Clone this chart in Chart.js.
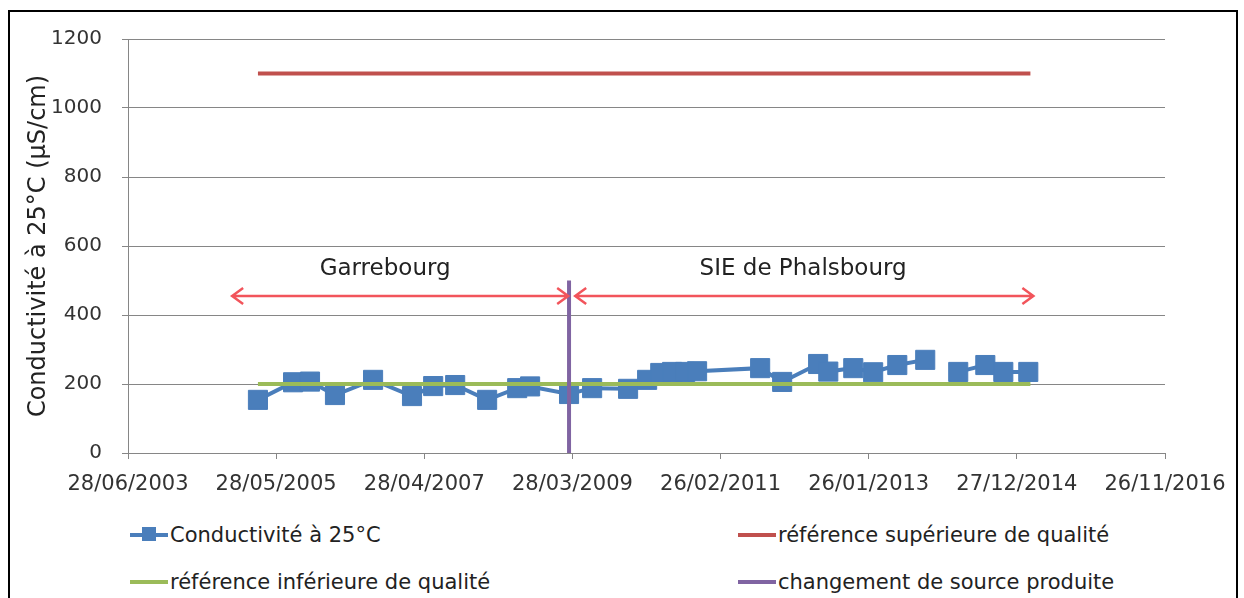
<!DOCTYPE html>
<html>
<head>
<meta charset="utf-8">
<script src="https://cdn.jsdelivr.net/npm/chart.js@4.4.0/dist/chart.umd.min.js"></script>
<style>
  body { margin: 0; background: #fff; font-family: "DejaVu Sans", sans-serif; overflow: hidden; }
  #frame { position: absolute; left: 8px; top: 10px; width: 1226px; height: 620px; border: 2px solid #000; }
  #wrap { position: absolute; left: 0; top: 0; width: 1244px; height: 510px; }
  .item { position: absolute; display: flex; align-items: center; font-size: 21px; color: #222; white-space: nowrap; transform: translateY(-50%); }
  .sym { position: relative; width: 38px; height: 4px; margin-right: 2px; }
  .sym i { position: absolute; left: 12px; top: -6px; width: 14px; height: 14px; }
</style>
</head>
<body>
<div id="frame"></div>
<div id="wrap"><canvas id="chart"></canvas></div>
<div id="legend"></div>

<script>
// sampling dates and measured conductivity (µS/cm), null = gap in the line
const sampleDates = ['2005-03-03', '2005-08-16', '2005-11-04', '2006-03-02', '2006-08-29', '2007-03-01',
  '2007-06-09', '2007-09-21', '2008-02-19', '2008-07-10', '2008-09-09', '2009-03-12', '2009-06-29',
  '2009-12-16', '2010-03-16', '2010-05-17', '2010-07-12', '2010-09-12', '2010-11-07', '2011-09-01',
  '2011-12-14', '2012-06-01', '2012-07-19', '2012-11-14', '2013-02-16', '2013-06-10', '2013-10-20',
  '2014-01-15', '2014-03-25', '2014-07-31', '2014-10-24', '2015-02-19'];
const conductivity = [154, 205, 207, 168, 212, 165, 194, 197, 154, 188, 193, 171, 188,
  186, 212, 232, 235, 235, 237, 246, 206, 258, 236, 246, 234, 255, 270,
  null, 235, 255, 235, 235];

const refDates = ['2005-03-03', '2015-03-01'];
const refUpper = [1100, 1100];
const refLower = [200, 200];

const sourceChangeDates = ['2009-03-12', '2009-03-12'];
const sourceChangeValues = [0, 500];

// axis: Excel date serials, one tick every 700 days
const xMin = 37800;   // 28/06/2003
const xMax = 42700;   // 26/11/2016
const xStep = 700;
const yMin = 0, yMax = 1200, yStep = 200;

const zoneLabels = ['Garrebourg', 'SIE de Phalsbourg'];
const zoneLabelDates = ['2006-10-25', '2012-03-22'];
const zoneArrowStart = ['2004-11-01', '2009-04-10'];
const zoneArrowEnd = ['2009-03-08', '2015-03-15'];
const zoneArrowLevel = 455;
const zoneLabelLevel = 532;

const seriesNames = ['Conductivité à 25°C', 'référence supérieure de qualité',
  'référence inférieure de qualité', 'changement de source produite'];
const seriesColors = ['#4a7ebb', '#c0504d', '#9bbb59', '#8064a2'];

function toSerial(iso) {
  const p = iso.split('-').map(Number);
  return Date.UTC(p[0], p[1] - 1, p[2]) / 86400000 + 25569;
}

function fmtSerial(v) {
  const d = new Date((v - 25569) * 86400000);
  const dd = String(d.getUTCDate()).padStart(2, '0');
  const mm = String(d.getUTCMonth() + 1).padStart(2, '0');
  return dd + '/' + mm + '/' + d.getUTCFullYear();
}

function pts(dates, values) {
  return dates.map((d, i) => ({ x: toSerial(d), y: values[i] }));
}

const zonePlugin = {
  id: 'zones',
  afterDraw(chart) {
    const ctx = chart.ctx;
    const xs = chart.scales.x, ys = chart.scales.y;
    ctx.save();
    ctx.strokeStyle = '#f2545b';
    ctx.lineWidth = 2.5;
    const ay = ys.getPixelForValue(zoneArrowLevel);
    for (let i = 0; i < zoneLabels.length; i++) {
      const x1 = xs.getPixelForValue(toSerial(zoneArrowStart[i]));
      const x2 = xs.getPixelForValue(toSerial(zoneArrowEnd[i]));
      ctx.beginPath();
      ctx.moveTo(x1, ay); ctx.lineTo(x2, ay);
      ctx.moveTo(x1 + 11, ay - 8); ctx.lineTo(x1, ay); ctx.lineTo(x1 + 11, ay + 8);
      ctx.moveTo(x2 - 11, ay - 8); ctx.lineTo(x2, ay); ctx.lineTo(x2 - 11, ay + 8);
      ctx.stroke();
    }
    ctx.fillStyle = '#222';
    ctx.font = '23px "DejaVu Sans", sans-serif';
    ctx.textAlign = 'center';
    ctx.textBaseline = 'middle';
    const ly = ys.getPixelForValue(zoneLabelLevel);
    zoneLabels.forEach((t, i) => ctx.fillText(t, xs.getPixelForValue(toSerial(zoneLabelDates[i])), ly));
    ctx.restore();
  }
};

Chart.defaults.font.family = '"DejaVu Sans", sans-serif';
Chart.defaults.color = '#333';

new Chart(document.getElementById('chart'), {
  type: 'line',
  data: {
    datasets: [
      {
        label: seriesNames[0], data: pts(sampleDates, conductivity), order: 3,
        borderColor: seriesColors[0], backgroundColor: seriesColors[0], borderWidth: 4,
        pointStyle: 'rect', pointRadius: 13.5, pointBorderWidth: 1, spanGaps: false
      },
      {
        label: seriesNames[1], data: pts(refDates, refUpper), order: 2,
        borderColor: seriesColors[1], borderWidth: 4, pointRadius: 0
      },
      {
        label: seriesNames[2], data: pts(refDates, refLower), order: 1,
        borderColor: seriesColors[2], borderWidth: 4, pointRadius: 0
      },
      {
        label: seriesNames[3], data: pts(sourceChangeDates, sourceChangeValues), order: 0,
        borderColor: seriesColors[3], borderWidth: 4, pointRadius: 0
      }
    ]
  },
  options: {
    responsive: true,
    maintainAspectRatio: false,
    animation: false,
    layout: { padding: { top: 39, right: 79, left: 0, bottom: 0 } },
    plugins: { legend: { display: false }, tooltip: { enabled: false } },
    scales: {
      x: {
        type: 'linear', min: xMin, max: xMax,
        ticks: { stepSize: xStep, autoSkip: false, maxRotation: 0, padding: 13, font: { size: 21 }, callback: v => fmtSerial(v) },
        grid: { drawOnChartArea: false, tickLength: 6, color: '#868686' },
        border: { color: '#868686' },
        afterFit: s => { s.height = 57; }
      },
      y: {
        min: yMin, max: yMax,
        ticks: { stepSize: yStep, padding: 20, font: { size: 20 }, callback: v => String(v) },
        grid: { color: '#868686', tickLength: 6 },
        border: { color: '#868686' },
        title: { display: true, text: 'Conductivité à 25°C (µS/cm)', font: { size: 24 }, color: '#222', padding: { top: 24, bottom: 0 } },
        afterFit: s => { s.width = 128; }
      }
    }
  },
  plugins: [zonePlugin]
});

// legend in two columns like the original
const legendPos = [[130, 535], [738, 535], [130, 582], [738, 582]];
const legend = document.getElementById('legend');
seriesNames.forEach((name, i) => {
  const it = document.createElement('div');
  it.className = 'item';
  it.style.left = legendPos[i][0] + 'px';
  it.style.top = legendPos[i][1] + 'px';
  const sym = document.createElement('span');
  sym.className = 'sym';
  sym.style.background = seriesColors[i];
  if (i === 0) {
    const m = document.createElement('i');
    m.style.background = seriesColors[i];
    sym.appendChild(m);
  }
  it.appendChild(sym);
  it.appendChild(document.createTextNode(name));
  legend.appendChild(it);
});
</script>
</body>
</html>
